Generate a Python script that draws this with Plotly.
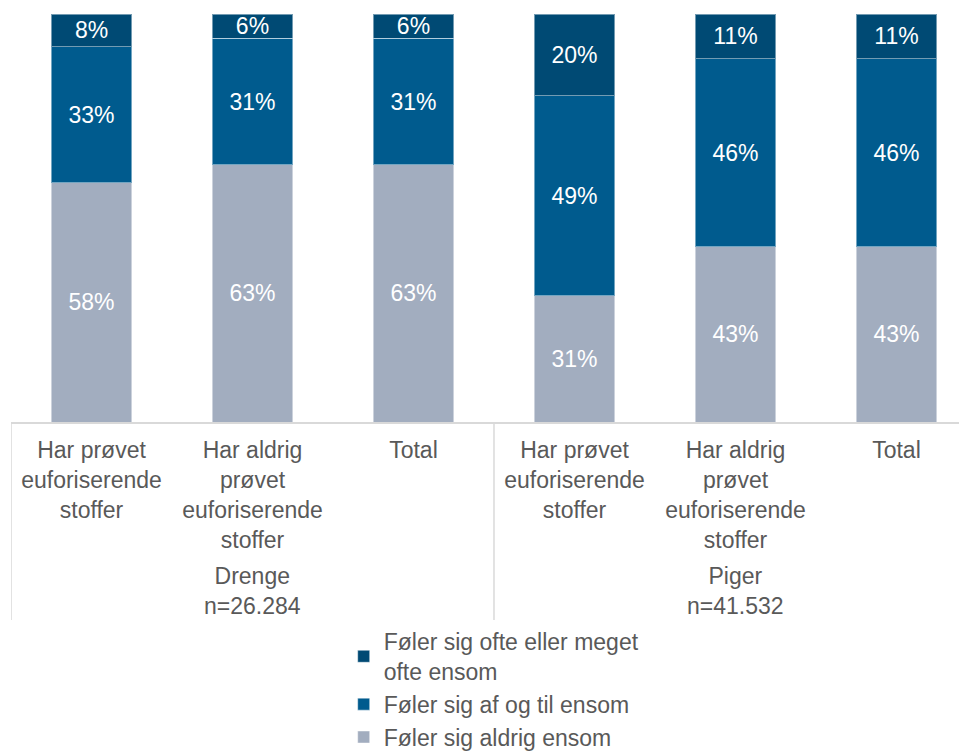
import plotly.graph_objects as go

categories = [
    "Har prøvet<br>euforiserende<br>stoffer",
    "Har aldrig<br>prøvet<br>euforiserende<br>stoffer",
    "Total",
    "Har prøvet<br>euforiserende<br>stoffer",
    "Har aldrig<br>prøvet<br>euforiserende<br>stoffer",
    "Total",
]
groups = ["Drenge<br>n=26.284", "Piger<br>n=41.532"]
aldrig = [58, 63, 63, 31, 43, 43]
af_og_til = [33, 31, 31, 49, 46, 46]
ofte = [8, 6, 6, 20, 11, 11]

series = [
    ("Føler sig aldrig ensom", aldrig, "#A2ADBF"),
    ("Føler sig af og til ensom", af_og_til, "#005B8E"),
    ("Føler sig ofte eller meget<br>ofte ensom", ofte, "#004A74"),
]

xpos = list(range(len(categories)))
font_family = "Liberation Sans, Arial, sans-serif"
gray = "#595959"

fig = go.Figure()
for name, vals, color in series:
    fig.add_trace(go.Bar(
        x=xpos, y=vals, name=name,
        marker=dict(color=color, line=dict(color="rgba(255,255,255,0.45)", width=1)),
        width=0.5,
        text=[f"{v}%" for v in vals],
        textposition="inside", insidetextanchor="middle",
        constraintext="none",
        textfont=dict(color="white", size=23, family=font_family),
        hoverinfo="skip",
    ))

shapes = []
for xd in [-0.5, 2.5, 5.5]:
    shapes.append(dict(type="line", xref="x", yref="paper", x0=xd, x1=xd,
                       y0=0, y1=-0.485, line=dict(color="#D9D9D9", width=1.5)))

annotations = []
for i, g in enumerate(groups):
    annotations.append(dict(text=g, x=1 + 3 * i, xref="x", y=-0.415, yref="paper",
                            showarrow=False, yanchor="middle",
                            font=dict(size=23, color=gray, family=font_family)))

fig.update_layout(
    width=959, height=743,
    margin=dict(l=3, r=0, t=6, b=329, autoexpand=False),
    barmode="stack", barnorm="percent",
    plot_bgcolor="white", paper_bgcolor="white",
    font=dict(family=font_family, color=gray, size=23),
    xaxis=dict(range=[-0.5, 5.438], tickvals=xpos, ticktext=categories,
               showline=True, linecolor="#D9D9D9", linewidth=1.5,
               showgrid=False, zeroline=False, ticks="", automargin=False,
               ticklabelstandoff=7,
               tickfont=dict(size=23, color=gray, family=font_family)),
    yaxis=dict(range=[0, 100], visible=False, automargin=False),
    legend=dict(traceorder="reversed", orientation="v", x=0.348, xanchor="left",
                y=-0.485, yanchor="top", font=dict(size=23, color=gray, family=font_family),
                itemclick=False, tracegroupgap=0),
    shapes=shapes, annotations=annotations,
)

fig.write_html("out.html")
